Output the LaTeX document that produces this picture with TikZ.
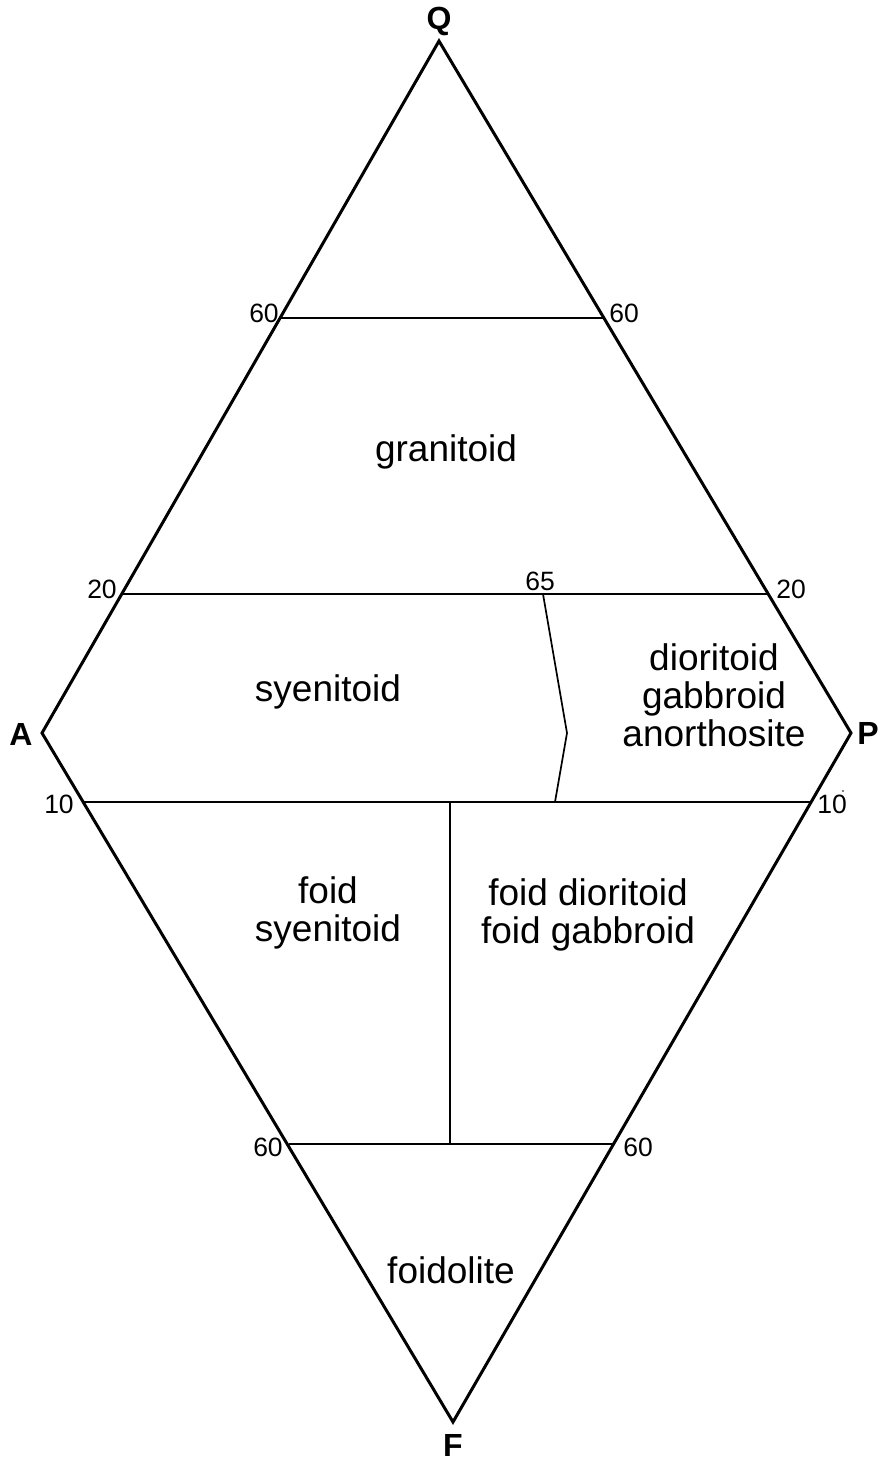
\documentclass[tikz,border=0pt]{standalone}
\usepackage{fontspec}
\setmainfont{Liberation Sans}
\begin{document}
\begin{tikzpicture}[x=1pt,y=-1pt,
  outer/.style={line width=3pt,line join=miter},
  inner/.style={line width=1.7pt},
  vlabel/.style={font=\fontsize{32}{36}\selectfont\bfseries,inner sep=0pt},
  numlabel/.style={font=\fontsize{26.5}{30}\selectfont,inner sep=0pt},
  region/.style={font=\fontsize{37}{38}\selectfont,align=center,inner sep=0pt}]
\useasboundingbox (0,0) rectangle (881,1460);
% vertices
\coordinate (Q) at (439,41);
\coordinate (A) at (42,733);
\coordinate (P) at (851,733);
\coordinate (F) at (453,1422);
% division points
\coordinate (q60l) at (281,318);
\coordinate (q60r) at (604,318);
\coordinate (q20l) at (122,594);
\coordinate (q20r) at (769,594);
\coordinate (f10l) at (83,802);
\coordinate (f10r) at (811,802);
\coordinate (f60l) at (289,1144);
\coordinate (f60r) at (613,1144);
\coordinate (vtop) at (450,802);
\coordinate (vbot) at (450,1144);
\coordinate (s65) at (543,594);
\coordinate (k65) at (567,733);
\coordinate (b65) at (555,802);
% inner lines
\draw[inner] (q60l) -- (q60r);
\draw[inner] (q20l) -- (q20r);
\draw[inner] (f10l) -- (f10r);
\draw[inner] (f60l) -- (f60r);
\draw[inner] (vtop) -- (vbot);
\draw[inner] (s65) -- (k65) -- (b65);
% outline
\draw[outer] (Q) -- (P) -- (F) -- (A) -- cycle;
% vertex labels
\node[vlabel] (lQ) at (439,21) {Q};
\node[vlabel] (lA) at (21,734) {A};
\node[vlabel] (lP) at (868,733) {P};
\node[vlabel] (lF) at (453,1445) {F};
% number labels
\node[numlabel] (n60a) at (264,313) {60};
\node[numlabel] (n60b) at (624,313) {60};
\node[numlabel] (n20a) at (102,589) {20};
\node[numlabel] (n20b) at (791,589) {20};
\node[numlabel] (n65) at (540,581) {65};
\node[numlabel] (n10a) at (59,804) {10};
\node[numlabel] (n10b) at (832,804) {10};
\node[numlabel] (n60c) at (268,1147) {60};
\node[numlabel] (n60d) at (638,1147) {60};
\fill (843,791) circle (0.9);
% region labels
\node[region] (granitoid) at (446,452) {granitoid};
\node[region] (syenitoid) at (328,692) {syenitoid};
\node[region] (diorite) at (714,695) {dioritoid\\gabbroid\\anorthosite};
\node[region] (foidsy) at (328,913) {foid\\syenitoid};
\node[region] (foiddi) at (588,915) {foid dioritoid\\foid gabbroid};
\node[region] (foidolite) at (451,1270) {foidolite};
\end{tikzpicture}
\end{document}
